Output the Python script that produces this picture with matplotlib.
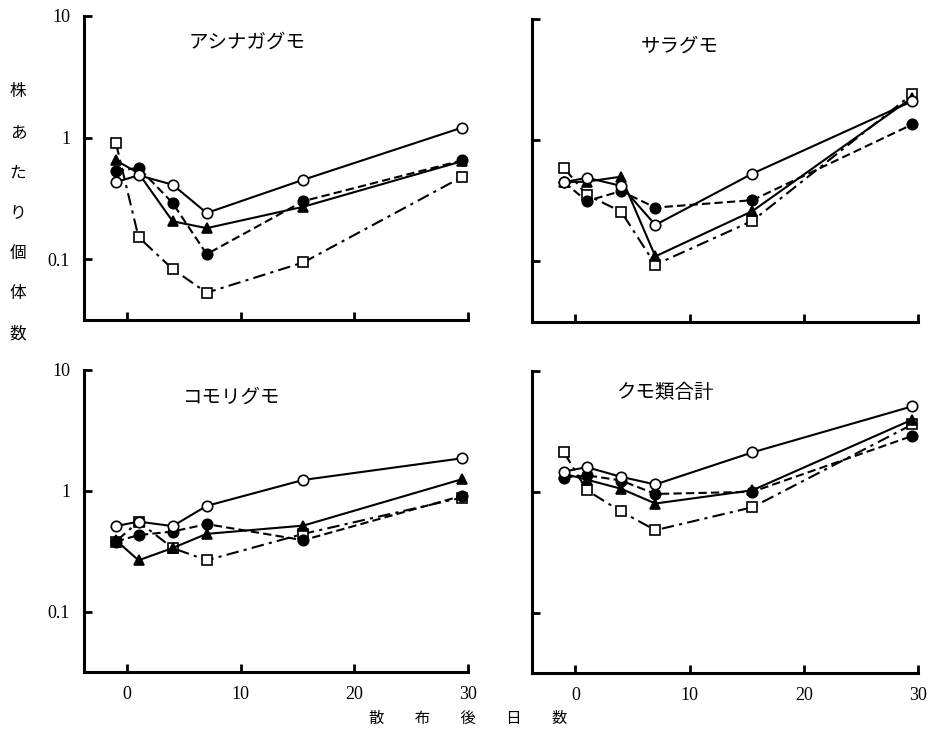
import matplotlib
matplotlib.use("Agg")
import matplotlib.pyplot as plt
from matplotlib.ticker import FixedLocator, NullLocator

JP = ["Noto Sans CJK JP", "DejaVu Sans"]
SERIF = "Liberation Serif"

# days after spraying (shared by every series)
days = [-1, 1, 4, 7, 15.5, 29.5]

# individuals per plant
# アシナガグモ
ashinaga_open = [0.43, 0.49, 0.41, 0.24, 0.45, 1.21]
ashinaga_filled = [0.53, 0.565, 0.29, 0.11, 0.30, 0.65]
ashinaga_tri = [0.65, 0.51, 0.205, 0.18, 0.27, 0.64]
ashinaga_sq = [0.91, 0.152, 0.083, 0.053, 0.094, 0.476]
# サラグモ
sara_open = [0.45, 0.49, 0.42, 0.20, 0.53, 2.1]
sara_filled = [0.45, 0.315, 0.38, 0.278, 0.32, 1.35]
sara_tri = [0.45, 0.455, 0.50, 0.11, 0.26, 2.25]
sara_sq = [0.59, 0.353, 0.258, 0.094, 0.216, 2.4]
# コモリグモ
komori_open = [0.51, 0.556, 0.51, 0.75, 1.23, 1.86]
komori_filled = [0.38, 0.43, 0.46, 0.53, 0.39, 0.91]
komori_tri = [0.39, 0.266, 0.336, 0.44, 0.515, 1.25]
komori_sq = [0.38, 0.556, 0.336, 0.266, 0.44, 0.88]
# クモ類合計
total_open = [1.47, 1.60, 1.33, 1.15, 2.12, 5.1]
total_filled = [1.31, 1.37, 1.24, 0.96, 1.0, 2.9]
total_tri = [1.41, 1.26, 1.06, 0.80, 1.03, 3.96]
total_sq = [2.12, 1.03, 0.687, 0.481, 0.745, 3.61]

titles = ["アシナガグモ", "サラグモ", "コモリグモ", "クモ類合計"]
panel_data = [
    (ashinaga_open, ashinaga_filled, ashinaga_tri, ashinaga_sq),
    (sara_open, sara_filled, sara_tri, sara_sq),
    (komori_open, komori_filled, komori_tri, komori_sq),
    (total_open, total_filled, total_tri, total_sq),
]

styles = [
    dict(marker="o", mfc="white", ls="-", zorder=4),
    dict(marker="o", mfc="black", ls=(0, (4, 2)), zorder=3),
    dict(marker="^", mfc="black", ls="-", zorder=3),
    dict(marker="s", mfc="white", ls=(0, (6, 2.5, 1.5, 2.5)), zorder=2),
]

W, H = 929, 739
fig = plt.figure(figsize=(W / 100, H / 100), dpi=100)

# axes boxes in pixels: (left, top, right, bottom)
boxes = [(84, 16, 468, 320), (532, 19, 918, 322),
         (84, 370, 468, 672), (532, 371, 918, 673)]
title_pos = [(0.424, 0.915), (0.383, 0.91), (0.385, 0.91), (0.345, 0.93)]

for i, (box, title, series) in enumerate(zip(boxes, titles, panel_data)):
    l, t, r, b = box
    ax = fig.add_axes([l / W, 1 - b / H, (r - l) / W, (b - t) / H])
    for ys, st in zip(series, styles):
        ax.plot(days, ys, color="black", lw=1.5, ms=7.5, mec="black",
                mew=1.2, clip_on=False, **st)
    ax.set_yscale("log")
    ax.set_ylim(10 ** -1.5, 10)
    ax.set_xlim(-3.8, 30)
    ax.yaxis.set_major_locator(FixedLocator([0.1, 1, 10]))
    ax.yaxis.set_minor_locator(NullLocator())
    ax.set_xticks([0, 10, 20, 30])
    for side in ("top", "right"):
        ax.spines[side].set_visible(False)
    for side in ("left", "bottom"):
        ax.spines[side].set_linewidth(2.2)
    ax.tick_params(direction="in", length=6, width=2, pad=10)
    if i % 2 == 0:
        ax.set_yticklabels(["0.1", "1", "10"], fontfamily=SERIF, fontsize=13)
    else:
        ax.set_yticklabels([])
    if i >= 2:
        ax.set_xticklabels(["0", "10", "20", "30"], fontfamily=SERIF,
                           fontsize=13)
    else:
        ax.set_xticklabels([])
    ax.text(*title_pos[i], title, transform=ax.transAxes, ha="center",
            va="center", fontsize=14, family=JP)

fig.text(18 / W, 1 - 213 / H, "株\nあ\nた\nり\n個\n体\n数", ha="center",
         va="center", fontsize=12, linespacing=2.8, family=JP)
fig.text(468 / W, 1 - 718 / H, "散　　布　　後　　日　　数", ha="center",
         va="center", fontsize=11, family=JP)

fig.savefig("out.png", dpi=100)
